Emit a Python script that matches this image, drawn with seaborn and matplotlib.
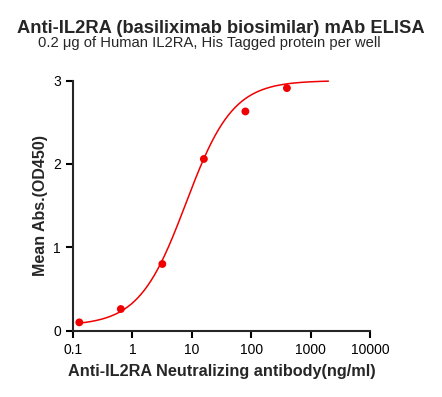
"""ELISA binding curve for Anti-IL2RA (basiliximab biosimilar) mAb."""

import numpy as np
import pandas as pd
import seaborn as sns
import matplotlib.pyplot as plt
from matplotlib.ticker import FixedLocator, NullLocator

# measured points read from the plate
conc = [0.128, 0.64, 3.2, 16, 80, 400]
od450 = [0.10, 0.26, 0.80, 2.06, 2.63, 2.91]

# 4PL fit parameters (bottom, top, EC50, hill)
fit_bottom = 0.06
fit_top = 3.0
fit_ec50 = 8.0
fit_hill = 1.1
fit_range = (0.128, 2000)

x_ticks = [0.1, 1, 10, 100, 1000, 10000]
x_tick_labels = ["0.1", "1", "10", "100", "1000", "10000"]
y_ticks = [0, 1, 2, 3]

sns.set_style("ticks")
plt.rcParams["font.family"] = ["Liberation Sans", "DejaVu Sans"]

points_df = pd.DataFrame({"conc": conc, "od": od450})
xs = np.logspace(np.log10(fit_range[0]), np.log10(fit_range[1]), 300)
curve_df = pd.DataFrame(
    {
        "conc": xs,
        "od": fit_bottom
        + (fit_top - fit_bottom) / (1 + (fit_ec50 / xs) ** fit_hill),
    }
)

fig = plt.figure(figsize=(4.42, 3.97), dpi=100)
ax = fig.add_axes([0.165, 0.167, 0.672, 0.630])

sns.lineplot(data=curve_df, x="conc", y="od", color="#f00000", lw=1.1, ax=ax)
sns.scatterplot(
    data=points_df, x="conc", y="od", color="#f00000", s=32,
    edgecolor="none", ax=ax, zorder=3,
)

ax.set_xscale("log")
ax.set_xlim(0.1, 10000)
ax.set_ylim(0, 3)
ax.xaxis.set_major_locator(FixedLocator(x_ticks))
ax.xaxis.set_minor_locator(NullLocator())
ax.set_xticklabels(x_tick_labels)
ax.set_yticks(y_ticks)
ax.tick_params(axis="both", width=1.5, length=5, labelsize=10, colors="black")
for side in ["left", "bottom"]:
    ax.spines[side].set_linewidth(1.5)
sns.despine(ax=ax)
for art in ax.lines + ax.collections:
    art.set_clip_on(False)

ax.set_xlabel("Anti-IL2RA Neutralizing antibody(ng/ml)", fontsize=11.7,
              fontweight="bold")
ax.set_ylabel("Mean Abs.(OD450)", fontsize=11.5, fontweight="bold")
ax.xaxis.set_label_coords(0.5, -0.135)
ax.yaxis.set_label_coords(-0.085, 0.5)

fig.text(0.5, 0.916, "Anti-IL2RA (basiliximab biosimilar) mAb ELISA",
         ha="center", va="baseline", fontsize=13.2, fontweight="bold")
fig.text(0.473, 0.882, "0.2 μg of Human IL2RA, His Tagged protein per well",
         ha="center", va="baseline", fontsize=10.6)

fig.savefig("out.png", dpi=100)
plt.close(fig)
